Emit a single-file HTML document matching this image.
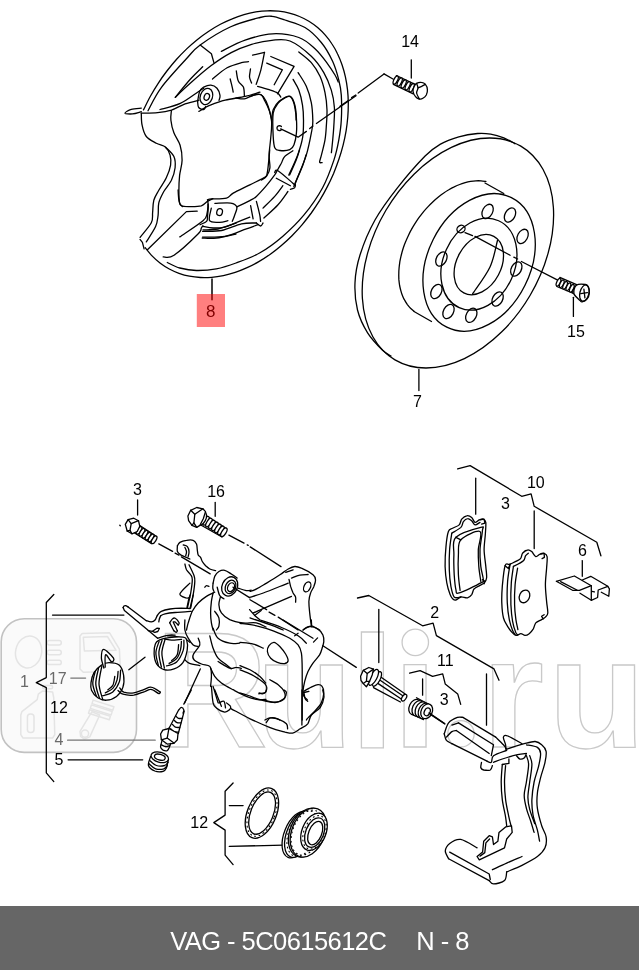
<!DOCTYPE html>
<html><head><meta charset="utf-8">
<style>
html,body{margin:0;padding:0;background:#fff;}
body{width:639px;height:970px;overflow:hidden;position:relative;font-family:"Liberation Sans",sans-serif;}
#dia{position:absolute;left:0;top:0;width:639px;height:906px;display:block;}
#bar{position:absolute;left:0;top:906px;width:639px;height:64px;background:#666;color:#fff;font-size:25.5px;}
#bar span{opacity:0.999;position:absolute;top:3px;line-height:64px;white-space:pre;letter-spacing:-0.55px;}
.l{font-family:"Liberation Sans",sans-serif;font-size:16px;fill:#000;text-anchor:middle;}
.k{fill:none;stroke:#000;stroke-width:1.3;stroke-linecap:round;stroke-linejoin:round;}
.kw{fill:#fff;stroke:#000;stroke-width:1.3;stroke-linecap:round;stroke-linejoin:round;}
.dt{fill:none;stroke:#000;stroke-width:1.1;stroke-dasharray:0.9 3.6;stroke-linecap:round;}
.wt{fill:none;stroke:#c9c9c9;stroke-width:1.3;font-family:"Liberation Sans",sans-serif;font-weight:bold;font-size:160px;}
</style></head><body>
<svg id="dia" width="639" height="906" viewBox="0 0 639 906">
<!-- WATERMARK -->
<g id="wm">
<rect x="1.2" y="618.8" width="135.3" height="133.6" rx="23" ry="23" fill="#fafafa" stroke="#c2c2c2" stroke-width="1.6"/>
<g fill="none" stroke="#e4e4e4" stroke-width="1.5" stroke-linejoin="round"><ellipse cx="28.6" cy="652" rx="13" ry="16" transform="rotate(12 28.6 652)"/><rect x="47.1" y="640.5" width="14.2" height="4.4" rx="2.2"/><rect x="47.1" y="650.3" width="14.2" height="4.4" rx="2.2"/><rect x="47.1" y="660.2" width="14.2" height="4.4" rx="2.2"/><polygon points="80.0,636.1 82.2,633.5 109.6,632.8 119.4,649.2 120.5,671.2 83.3,672.3 80.0,669.0"/><polygon points="83.3,637.2 107.4,636.5 116.1,650.3 84.4,651.0"/><polygon points="20.8,715.0 21.9,711.7 37.2,699.6 38.3,694.2 42.7,690.9 52.6,692.0 53.7,697.5 54.8,734.7 52.6,738.0 23.0,738.0 20.8,734.7"/><rect x="27.4" y="713.9" width="6.6" height="18.6" rx="3"/><rect x="42.7" y="685.4" width="9.9" height="3.3" rx="1.5"/><polygon points="80.0,731.4 92.0,711.7 99.7,715.0 89.8,736.9 84.4,739.1 80.6,736.5"/><circle cx="85.0" cy="733.6" r="3.6"/><polygon points="93.1,700.1 113.9,706.7 112.8,710.2 92.0,703.6"/><polygon points="91.4,704.9 112.2,711.5 111.1,715.0 90.3,708.4"/><polygon points="89.6,709.7 110.4,716.3 109.3,719.8 88.5,713.2"/></g>
<g class="wt">
<text transform="translate(165.2,747.5) scale(0.975,1.03) translate(-165.2,-747.5)" x="154.7" y="747.5">R</text>
<text transform="translate(0,747.5) scale(1,0.974) translate(0,-747.5)" x="255.8" y="747.5">u</text>
<text x="350.2" y="747.5">l</text>
<text transform="translate(0,747.5) scale(1,0.974) translate(0,-747.5)" x="392.8" y="747.5">ı</text>
<text transform="translate(0,747.5) scale(1,0.974) translate(0,-747.5)" x="481.8" y="747.5">r</text>
<text transform="translate(0,747.5) scale(1,0.974) translate(0,-747.5)" x="548" y="747.5">u</text>
<circle cx="415.3" cy="642.4" r="13.2"/>
<circle cx="461" cy="733.8" r="13.2"/>
</g>
</g>
<!-- HIGHLIGHT -->

<!-- LABELS -->
<g id="labels" style="filter:grayscale(1)">
<text class="l" x="410.1" y="46.5">14</text>
<text class="l" x="576" y="337">15</text>
<text class="l" x="417.4" y="407">7</text>
<text class="l" x="137.5" y="494.5">3</text>
<text class="l" x="216.1" y="496.5">16</text>
<text class="l" style="fill:#6a6a6a" x="24.5" y="686.8">1</text>
<text class="l" style="fill:#6a6a6a" x="57.7" y="683.5">17</text>
<text class="l" x="58.9" y="712.7">12</text>
<text class="l" style="fill:#6a6a6a" x="58.9" y="745.3">4</text>
<text class="l" x="58.9" y="764.7">5</text>
<text class="l" x="199.2" y="828.3">12</text>
<text class="l" x="535.8" y="487.6">10</text>
<text class="l" x="505.4" y="508.8">3</text>
<text class="l" x="582.4" y="555.5">6</text>
<text class="l" x="434.8" y="617.6">2</text>
<text class="l" x="445.4" y="666.4">11</text>
<text class="l" x="444.1" y="704.9">3</text>
<text class="l" x="210.8" y="316.7" style="font-size:17px">8</text>
</g>
<!-- DRAWING -->
<g id="draw">
<path class="k" d="M143.5 109.9C144.7 107.6 147.9 100.7 150.4 96.3C152.8 91.9 155.4 87.5 158.2 83.3C160.9 79.1 163.9 74.9 166.9 71C170 67 173.2 63.1 176.4 59.5C179.7 55.8 183.2 52.3 186.7 48.9C190.2 45.6 193.8 42.5 197.5 39.5C201.2 36.6 205 33.8 208.8 31.3C212.6 28.7 216.5 26.4 220.4 24.3C224.3 22.2 228.2 20.4 232.2 18.8C236.1 17.1 240.1 15.7 244 14.6C247.9 13.5 251.9 12.6 255.8 11.9C259.7 11.3 263.6 10.9 267.4 10.8C271.2 10.7 274.9 10.8 278.6 11.2C282.2 11.6 285.8 12.2 289.3 13.1C292.8 14 296.2 15.1 299.5 16.5C302.8 17.8 305.9 19.5 308.9 21.3C312 23.2 314.9 25.3 317.6 27.6C320.3 29.9 322.9 32.4 325.3 35.2C327.7 37.9 330 40.9 332 44C334.1 47.1 336 50.5 337.6 54C339.3 57.5 340.8 61.2 342.1 65C343.4 68.8 344.5 72.8 345.4 76.9C346.3 81 347 85.3 347.5 89.6C348 94 348.2 98.4 348.3 102.9C348.3 107.4 348.2 112.1 347.8 116.7C347.4 121.4 346.9 126.1 346.1 130.8C345.3 135.5 344.3 140.3 343.1 145.1C341.9 149.8 340.5 154.6 338.9 159.3C337.3 164 335.5 168.7 333.6 173.4C331.6 178 329.5 182.6 327.1 187.1C324.8 191.6 322.3 196 319.7 200.4C317 204.7 314.2 208.9 311.3 213C308.3 217 305.2 221 302 224.8C298.8 228.6 295.4 232.2 292 235.7C288.6 239.1 285 242.4 281.4 245.5C277.8 248.6 274.1 251.5 270.3 254.2C266.5 256.9 262.7 259.4 258.8 261.6C254.9 263.9 251 265.9 247.1 267.7C243.1 269.5 239.2 271.1 235.2 272.4C231.3 273.7 227.3 274.8 223.4 275.6C219.5 276.4 215.6 277 211.7 277.3C207.9 277.6 204.1 277.7 200.4 277.5C196.6 277.3 193 276.9 189.4 276.2C185.9 275.5 182.4 274.5 179 273.3C175.7 272.1 172.4 270.7 169.3 269C166.2 267.3 163.2 265.4 160.3 263.2C157.5 261.1 154.8 258.7 152.3 256.1C149.8 253.5 146.4 249.1 145.2 247.7"/>
<path class="k" d="M148 110.7C150.2 106.8 154.9 96.2 161.3 87.6C167.7 78.9 179.9 65.9 186.4 58.8C192.9 51.7 192.9 50.3 200.2 45C207.5 39.7 220.2 31.6 230.2 27C240.2 22.4 253 19.3 260 17.5C267 15.7 267.8 15.9 272 16.3C276.2 16.7 279.5 18.1 285 20C290.5 21.9 298.9 23.8 305 27.5C311.1 31.2 316.7 36.9 321.3 42.5C325.9 48.1 329.7 55 332.6 61.3C335.5 67.6 337.4 74.5 338.8 80.1C340.2 85.7 340.9 88.4 341.3 95.1C341.7 101.8 341.7 112.6 341.3 120.1C340.9 127.6 340 133.2 338.8 139.9C337.6 146.6 336.6 152.1 333.9 160.1C331.2 168.1 327.6 178.5 322.6 187.7C317.6 196.9 310.5 207.1 303.8 215.2C297.1 223.3 289.9 230.2 282.6 236.5C275.3 242.8 267.8 248.4 260 252.8C252.2 257.2 243.3 260.3 236 263C228.7 265.7 222.9 267.6 216.3 268.8C209.7 270.1 202.5 270.6 196.4 270.5C190.3 270.4 184.7 269.3 179.8 268C175 266.7 169.4 263.4 167.3 262.5"/>
<path class="k" d="M221.3 51.3C225.3 49.4 236.5 43 245.1 40.1C253.7 37.2 263.7 34.2 272.6 33.8C281.6 33.4 291.7 35 298.8 37.5C305.9 40 310.2 44.4 315 48.8C319.8 53.2 324.3 59.4 327.6 63.8C330.9 68.2 333.2 72 335 75C336.8 78 337.7 80.8 338.2 82"/>
<path class="k" d="M175.3 97.3C177.8 94.9 184.6 88.3 190.5 83.1C196.4 77.8 204.1 70.9 210.9 65.8C217.7 60.7 224.4 56.2 231.2 52.6C238 49 244.8 46.5 251.6 44.4C258.4 42.3 265.5 40.9 271.9 40.3C278.3 39.7 283.4 38.3 290 41C296.6 43.7 305.7 51 311.3 56.3C316.9 61.6 320.5 67 323.8 72.6C327.1 78.2 329.5 84.3 331.3 90.1C333.1 95.9 334 101.5 334.4 107.6C334.8 113.6 334.1 120.7 333.8 126.4C333.5 132.1 332.9 137.6 332.5 142C332.1 146.4 331.6 150.8 331.4 152.6"/>
<path class="k" d="M175.3 97.3C177.8 94.2 185.9 84.1 190.5 79C195.1 73.9 200.7 68.8 202.7 66.8"/>
<path class="k" d="M298.8 51.9C300.9 53.7 307.8 58.5 311.3 62.6C314.8 66.7 317.7 71.3 320 76.3C322.3 81.3 323.8 87 325 92.6C326.2 98.2 326.8 104.5 327 110.1C327.2 115.7 326.6 121.4 326.3 126.4C326 131.4 325.8 135.1 325 139.9C324.2 144.7 322.3 151.4 321.4 155.1C320.5 158.8 319.5 160.8 319.6 162.1C319.7 163.3 321.7 162.5 322.1 162.6"/>
<path class="k" d="M298.1 72.6C299.5 74.9 304.1 81.3 306.3 86.3C308.5 91.3 310.2 97 311.3 102.6C312.4 108.2 312.7 115.5 312.8 120.1C312.9 124.7 313 124.2 311.9 130C310.8 135.8 308.9 146.7 306.3 155.1C303.7 163.5 298.4 175 296.3 180.2C294.2 185.4 294.2 185.4 293.8 186.4"/>
<path class="k" d="M293.1 79.4C294.1 81.2 297.2 85.8 298.8 90.1C300.4 94.4 301.7 100.1 302.5 105.1C303.3 110.1 303.5 114.7 303.5 120.1C303.5 125.5 303.6 131.8 302.6 137.6C301.6 143.4 299.9 148.8 297.6 155.1C295.3 161.3 290.3 171.8 288.8 175.1"/>
<path class="k" d="M200.2 45.1L211.4 53.8L213.9 62.6"/>
<path class="k" d="M141.3 108.2C139.6 108.4 134 108.6 131.3 109.4C128.6 110.2 124.8 112.4 125 113.2C125.2 113.9 129.8 114.2 132.5 113.9C135.3 113.7 139.9 112 141.3 111.7"/>
<path class="k" d="M141.3 113.2C144 113.1 152.6 113.2 157.6 112.7C162.6 112.2 166.8 111.6 171.4 110.2C175.9 108.7 180.5 105.6 185.1 103.9C189.7 102.2 196.6 100.8 198.9 100.2"/>
<path class="k" d="M198.9 111.4C199.9 110.8 203.3 108.7 205.2 107.7C207 106.6 206.8 106.4 210.2 105.2C213.5 103.9 219.3 101.6 225.2 100.2C231 98.7 239.4 97.7 245.2 96.4C251 95.1 257.5 92.8 260 92.1"/>
<path class="k" d="M197.6 101.4C198 99.7 198.7 93.6 199.7 91.2C200.7 88.8 201.9 88.2 203.7 87.1C205.6 86.1 208.7 84.9 210.9 85.1C213.1 85.3 215.4 86.5 217 88.2C218.5 89.9 219.7 93.2 220 95.3C220.4 97.3 219.2 99.5 219 100.4"/>
<path class="k" d="M197.6 101.4C197.8 102.4 197.6 106.1 198.7 107.5C199.7 108.8 202.6 109.7 203.7 109.5C204.9 109.4 205.4 107 205.8 106.5"/>
<ellipse class="kw" cx="206.4" cy="96.5" rx="6.1" ry="8.3" transform="rotate(20 206.4 96.5)"/>
<ellipse class="k" cx="206.8" cy="96.9" rx="2.6" ry="3.5" transform="rotate(20 206.8 96.9)"/>
<path class="k" d="M160 109.5C163.4 108.5 174.1 106.3 180.3 103.4C186.6 100.5 193.7 94.8 197.6 92.2C201.5 89.7 202.7 88.8 203.7 88.2"/>
<path class="k" d="M212.5 79C214.9 77.1 222.3 70.5 227.1 67.8C232 65.1 237.8 63.7 241.4 62.7C244.9 61.7 247.3 61.9 248.5 61.7"/>
<path class="k" d="M230.2 79C230.5 80.4 231.7 84.9 232.2 87.1C232.7 89.3 233.1 91.4 233.2 92.2"/>
<path class="k" d="M236.3 70.9C236.6 72.6 237.1 78.3 238.3 81C239.5 83.8 242.4 84.6 243.4 87.1C244.4 89.7 244.3 94.8 244.4 96.3"/>
<path class="k" d="M250.5 68.8C250.4 70.2 249.4 74.6 249.5 77C249.7 79.3 251.2 82.1 251.6 83.1"/>
<path class="k" d="M141.3 113.2C141.4 115.2 141.2 121.3 142.1 125.2C142.9 129.1 143.9 133.5 146.3 136.5C148.7 139.5 153.1 141.4 156.3 143.2C159.5 145 163.3 145.2 165.6 147.2C167.9 149.2 169.3 152.2 170.1 155.2C170.9 158.2 171.2 161.5 170.6 165.2C170 169 168.3 173.6 166.3 177.8C164.4 181.9 160.9 186.5 158.8 190.3C156.8 194 154.9 196.5 153.8 200.3C152.8 204.1 153 209.1 152.6 212.8C152.2 216.6 153.4 218.7 151.3 222.8C149.2 226.9 141.9 234.9 140.1 237.4"/>
<path class="k" d="M165.6 147.2C167 148.8 172.3 153.1 173.9 156.5C175.4 159.9 175.5 163.8 175.1 167.8C174.7 171.7 173.2 176.3 171.4 180.3C169.5 184.2 165.9 187.8 163.8 191.5C161.8 195.3 159.8 198.8 158.8 202.8C157.9 206.8 158.6 211.4 158.1 215.3C157.5 219.3 157.5 222.2 155.6 226.6C153.6 231 147.9 239.3 146.3 241.9"/>
<path class="k" d="M171.4 110.7C171.3 112.3 170.4 116.5 170.9 120.2C171.3 123.9 172.3 128.5 173.9 132.7C175.4 136.9 178.7 140.6 180.1 145.2C181.5 149.8 182.2 155.2 182.1 160.2C182 165.2 180.2 170.3 179.6 175.3C179.1 180.3 178.9 185.7 178.9 190.3C178.9 194.9 179 200.1 179.6 202.8C180.2 205.5 182.1 205.9 182.6 206.6"/>
<path class="k" d="M140 239.4L142.4 242.3L144.1 248.9"/>
<path class="k" d="M147.4 249.7L186.4 211.6L197.2 211.2"/>
<path class="k" d="M179.8 236.9C183.6 234.2 198.4 224.6 203 220.7C207.6 216.7 206.3 216 207.1 213.2C208 210.5 207.8 205.6 208 204.1"/>
<path class="k" d="M163.2 256.9C165 256.6 168.2 259 174 255.2C179.8 251.4 193.5 238.5 198 234C202.6 229.5 200.5 229.5 201.3 228.2C202.2 226.8 202.7 226.1 203 225.7"/>
<path class="k" d="M203 229.8C205.5 229.7 212.4 230.1 217.9 229C223.4 227.9 233 224.1 236 223.2"/>
<path class="k" d="M202.2 238.1C204.5 238.1 210.6 238.8 216.3 238.1C221.9 237.4 232.7 234.7 236 234"/>
<path class="k" d="M178.1 190C178.2 191.7 178.4 197.3 178.9 200C179.5 202.6 179.4 204.7 181.4 205.8C183.5 206.9 188.1 206.6 191.4 206.6C194.7 206.6 198.7 206.6 201.3 205.8C204 204.9 205.2 202.8 207.1 201.6C209.1 200.4 212 199.1 212.9 198.6"/>
<ellipse class="k" cx="219.6" cy="212.1" rx="2.8" ry="3.5" transform="rotate(15 219.6 212.1)"/>
<path class="k" d="M211.3 208.2C211 210.3 208.2 218.3 209.6 220.7C211 223 216.5 222.3 219.6 222.3C222.6 222.3 226.5 221 227.9 220.7"/>
<path class="k" d="M269.7 150C269.5 151.7 269.3 156.1 268.8 160C268.4 163.8 267.9 170.3 267.2 173.2C266.5 176.1 267.6 175.4 264.7 177.4C261.8 179.3 255 182.2 249.8 184.8C244.5 187.5 237 190.9 233.2 193.1C229.3 195.3 230.1 197.1 226.5 198.1C222.9 199.1 214.8 198.7 211.6 198.9C208.4 199.2 208.2 199.6 207.5 199.8"/>
<path class="k" d="M207.5 199.8C207.6 200.9 208.3 203.6 208.3 206.4C208.3 209.2 207.7 213.9 207.5 216.4C207.2 218.8 207.9 220 206.6 221.3C205.4 222.7 201.1 224.1 200 224.7"/>
<path class="k" d="M214.9 203.4C217.6 203.4 227 202.5 230.7 203.1C234.3 203.7 236.1 205 236.8 206.9C237.5 208.8 235.6 212.3 234.8 214.7C234.1 217.1 232.8 220.2 232.3 221.3"/>
<path class="k" d="M236.8 206.9C239 205.9 246.5 202.3 249.8 200.6C253 198.9 253.6 198.9 256.4 196.4C259.2 194 263.3 189.3 266.4 185.7C269.4 182.1 272.9 177.4 274.7 174.9C276.4 172.4 276 172.7 277.1 170.7C278.2 168.8 280 165.6 281.3 163.3C282.5 160.9 282.7 158.7 284.6 156.6C286.5 154.6 291.5 151.8 292.9 150.8"/>
<path class="k" d="M202.5 226.3C204.3 226.6 209.5 227.8 213.3 228C217 228.1 221.6 227.8 224.9 227.1C228.2 226.4 229 225.5 233.2 223.8C237.3 222.2 247 218.3 249.8 217.2"/>
<path class="k" d="M250.6 205.6 L253.1 218.8"/>
<path class="k" d="M256.4 201.4C257 203.6 259 211.4 259.7 214.7C260.4 218 260.4 220.2 260.6 221.3"/>
<path class="k" d="M256.4 223C257.1 223.5 259.4 226 260.6 226C261.7 226 262.6 223.5 263 223"/>
<path class="k" d="M276.3 178.2L290.4 185.7"/>
<path class="k" d="M274.7 172.4C275.2 172.1 274.9 168.9 278 170.7C281 172.5 290 180.7 292.9 183.2C295.8 185.7 295 185.3 295.4 185.7"/>
<path class="k" d="M290.4 189.3C291.1 189.1 293.7 188.7 294.6 187.8C295.4 186.9 295.2 184.6 295.4 184"/>
<path class="k" d="M202.5 231.3C205.7 231.1 215.1 231.7 221.6 230.5C228.1 229.2 235.7 225.1 241.5 223.8C247.3 222.6 253.9 223.1 256.4 223"/>
<path class="k" d="M202.5 237.1C206.2 237 217.6 237.6 224.9 236.3C232.2 234.9 240.9 230.7 246.4 228.8C252 226.9 256.1 225.3 258.1 224.7"/>
<path class="k" d="M263 208.1C265 206.1 271.3 200.2 274.7 196.4C278 192.7 281.6 187.5 282.9 185.7"/>
<path class="k" d="M263.9 218C266.2 215.8 274 209.2 278 204.7C282 200.3 286.3 193.7 287.9 191.5"/>
<path class="k" d="M289.6 174.9C290.7 172.4 294.6 164.1 296.2 160C297.9 155.8 299 151.7 299.5 150"/>
<path class="k" d="M295.4 183.2C296.6 180.1 301.1 169.6 302.9 164.9C304.6 160.2 305.5 156.6 306 155"/>
<path class="k" d="M252.6 55.2L264.5 52.3"/>
<path class="k" d="M264.5 52.3C263.9 55.3 262.3 64.4 260.9 69.8C259.5 75.1 257 81.9 256.2 84.4"/>
<path class="k" d="M270.8 56.5L294.1 66.4L277.5 93.8"/>
<path class="k" d="M266.7 63.1L282.4 69.8L274.2 84.7"/>
<path class="k" d="M257.6 86.4C259.5 86.9 265.9 88.6 269.2 89.7C272.5 90.8 275.5 91.7 277.5 93C279.4 94.2 280.2 96.4 280.8 97.1"/>
<path class="k" d="M236 98C237.4 98.1 241.5 99.2 244.3 98.8C247.1 98.4 249.8 96.2 252.6 95.5C255.4 94.8 258.8 93.7 260.9 94.7C263 95.6 263.6 98.7 265 101.3C266.4 103.9 268.1 107.3 269.2 110.4C270.3 113.5 271.3 118.4 271.7 120"/>
<path class="k" d="M271.7 120C271.9 118.3 272.1 112.7 273.3 109.6C274.6 106.5 276.5 103.5 279.1 101.3C281.8 99.1 286.7 96.3 289.1 96.3C291.4 96.3 292.1 98.5 293.2 101.3C294.3 104.1 295.3 109.8 295.7 112.9C296.2 116 296 118.8 296.1 120"/>
<path class="k" d="M250 96.6C251.4 96.2 256.1 94.1 258.3 94.1C260.5 94.1 261.6 94.5 263.3 96.6C264.9 98.7 266.9 102.4 268.2 106.5C269.6 110.7 271.2 116.2 271.6 121.5C272 126.7 271.2 132.5 270.7 138.1C270.3 143.6 269.2 149.7 269.1 154.7C268.9 159.6 270.3 164.3 269.9 167.9C269.5 171.5 268 174.2 266.6 176.2C265.2 178.2 262.4 179.4 261.6 180"/>
<path class="k" d="M273.2 113.2C274.1 107.6 276.1 105.9 278.2 103.2C280.3 100.6 283.6 98.5 285.7 97.4C287.7 96.3 289.1 95.3 290.6 96.6C292.2 97.8 293.8 101.3 294.8 104.9C295.8 108.5 296.2 113.5 296.4 118.2C296.7 122.9 296.9 128.7 296.4 133.1C296 137.5 295.1 141.9 294 144.7C292.9 147.5 292.2 148.7 289.8 149.7C287.5 150.6 282.3 150.8 279.9 150.5C277.4 150.2 276 150.4 274.9 148C273.8 145.7 273.5 142.2 273.2 136.4C272.9 130.6 272.4 118.7 273.2 113.2Z"/>
<path class="k" d="M281.4 129.7C281.3 129.8 280.8 130.3 280.5 130.4C280.1 130.6 279.7 130.6 279.3 130.6C278.9 130.5 278.5 130.4 278.1 130.2C277.8 130 277.5 129.6 277.3 129.3C277.1 128.9 277 128.5 277 128.1C277 127.7 277.1 127.3 277.3 126.9C277.5 126.6 277.8 126.3 278.1 126C278.5 125.8 278.9 125.7 279.3 125.6C279.7 125.6 280.1 125.7 280.5 125.8C280.8 125.9 281.3 126.4 281.4 126.5"/>
<path class="k" d="M280.7 128.9L298.1 137.2L306.4 131.4"/>
<path class="k" d="M309.7 128.6L313 126.1"/>
<path class="k" d="M316.4 123.5L356 95.8"/>
<path class="k" d="M411.3 59.8L411.3 78.1"/>
<path class="k" d="M384 73.9L358.2 93"/>
<path class="k" d="M355.8 95L351.6 97.6"/>
<path class="k" d="M348.3 100.5L340 106.3"/>
<path class="k" d="M384 73.9L393.4 79.2"/>
<path class="k" d="M396.4 75.6L416.6 85.2"/>
<path class="k" d="M393.4 84.4L413.3 93.8"/>
<ellipse class="kw" cx="395.7" cy="80.1" rx="1.8" ry="4.5" transform="rotate(26 395.7 80.1)"/>
<ellipse class="kw" cx="399.7" cy="82" rx="1.8" ry="4.5" transform="rotate(26 399.7 82)"/>
<ellipse class="kw" cx="403.7" cy="83.9" rx="1.8" ry="4.5" transform="rotate(26 403.7 83.9)"/>
<ellipse class="kw" cx="407.7" cy="85.8" rx="1.8" ry="4.5" transform="rotate(26 407.7 85.8)"/>
<ellipse class="kw" cx="411.7" cy="87.7" rx="1.8" ry="4.5" transform="rotate(26 411.7 87.7)"/>
<path class="kw" d="M414.2 86.4C414.8 85 415.5 84 416.6 83.4C417.8 82.7 419.8 82.2 421.3 82.4C422.8 82.5 424.4 83.1 425.4 84.4C426.5 85.6 427.3 87.9 427.4 89.7C427.6 91.4 427 93.5 426.3 95C425.5 96.4 424.1 97.6 422.9 98.3C421.8 99 420.5 99.2 419.3 99C418.1 98.7 416.5 97.9 415.5 96.6C414.4 95.4 413.2 93 413 91.3C412.8 89.6 413.5 87.7 414.2 86.4Z"/>
<path class="k" d="M416.6 83.4C416.9 84.1 418 86.4 418 88C418 89.6 416.4 91.2 416.6 93C416.9 94.8 418.9 98 419.3 99"/>
<path class="k" d="M418 88C418.6 87.7 420.4 87 421.6 86.4C422.9 85.7 424.8 84.7 425.4 84.4"/>
<ellipse class="k" cx="457.9" cy="253" rx="124" ry="83.7" transform="rotate(-59.5 457.9 253)"/>
<path class="k" d="M515.1 143.8C513.2 142.8 507.9 139.4 503.8 137.8C499.7 136.2 495.1 134.8 490.7 134.1C486.3 133.4 482.9 133 477.6 133.5C472.3 134 465.1 135.1 458.8 136.9C452.5 138.7 445.6 141.2 440 144.4C434.4 147.6 432.2 148.8 425.1 156C418 163.2 406 176.9 397.6 187.6C389.2 198.3 381.3 208.8 375 220C368.7 231.2 363.3 244.6 360 255C356.7 265.4 355.4 273.5 355 282.7C354.6 291.9 355.4 301.6 357.5 310C359.6 318.4 363.4 326.1 367.6 332.8C371.8 339.5 378.7 346.4 382.6 350.3C386.5 354.2 389.6 355.1 391 356"/>
<path class="k" d="M414 311.3C413.4 310.8 411.6 309.3 410.5 308.2C409.4 307.1 408.4 305.9 407.4 304.6C406.5 303.3 405.6 301.9 404.8 300.4C403.9 299 403.2 297.5 402.6 295.9C401.9 294.3 401.3 292.6 400.9 290.9C400.4 289.2 400 287.4 399.6 285.5C399.3 283.7 399.1 281.8 398.9 279.9C398.8 277.9 398.7 275.9 398.8 273.9C398.8 271.9 398.9 269.8 399.1 267.8C399.3 265.7 399.6 263.6 399.9 261.4C400.3 259.3 400.8 257.2 401.3 255C401.8 252.9 402.4 250.7 403.1 248.5C403.8 246.4 404.6 244.2 405.5 242.1C406.3 239.9 407.3 237.8 408.3 235.7C409.3 233.5 410.3 231.4 411.5 229.4C412.6 227.3 413.8 225.3 415.1 223.3C416.4 221.3 417.7 219.3 419.1 217.4C420.5 215.5 422 213.6 423.4 211.8C424.9 210 426.5 208.3 428.1 206.6C429.7 204.9 431.3 203.3 433 201.7C434.6 200.2 436.4 198.7 438.1 197.3C439.8 195.9 441.6 194.5 443.4 193.3C445.1 192 446.9 190.9 448.8 189.8C450.6 188.7 452.4 187.7 454.2 186.9C456.1 186 457.9 185.2 459.7 184.5C461.6 183.8 463.4 183.2 465.2 182.6C467 182.1 468.8 181.7 470.6 181.4C472.4 181.1 474.2 180.9 475.9 180.8C477.6 180.7 479.3 180.7 481 180.8C482.7 180.9 485.1 181.3 485.9 181.4"/>
<path class="k" d="M485 183L503.8 193.5"/>
<path class="k" d="M414 311.5L431.5 321.5"/>
<ellipse class="k" cx="479.1" cy="262.4" rx="72.4" ry="51.3" transform="rotate(-63.5 479.1 262.4)"/>
<ellipse class="k" cx="478.9" cy="264.2" rx="47.7" ry="35.7" transform="rotate(-65.6 478.9 264.2)"/>
<ellipse class="k" cx="478.8" cy="264.6" rx="32" ry="22.2" transform="rotate(-62 478.8 264.6)"/>
<path class="k" d="M497.6 240C496.3 244.5 494.2 258 490 267C485.8 276 475.4 289.5 472.5 294"/>
<ellipse class="k" cx="487.6" cy="211.4" rx="7.6" ry="5" transform="rotate(-62 487.6 211.4)"/>
<ellipse class="k" cx="510" cy="215" rx="7.6" ry="5" transform="rotate(-62 510 215)"/>
<ellipse class="k" cx="522.6" cy="236.4" rx="7.6" ry="5" transform="rotate(-62 522.6 236.4)"/>
<ellipse class="k" cx="516.3" cy="269" rx="7.6" ry="5" transform="rotate(-62 516.3 269)"/>
<ellipse class="k" cx="497.6" cy="299" rx="7.6" ry="5" transform="rotate(-62 497.6 299)"/>
<ellipse class="k" cx="471.3" cy="315.3" rx="7.6" ry="5" transform="rotate(-62 471.3 315.3)"/>
<ellipse class="k" cx="448.5" cy="311.5" rx="7.6" ry="5" transform="rotate(-62 448.5 311.5)"/>
<ellipse class="k" cx="436.4" cy="291.5" rx="7.6" ry="5" transform="rotate(-62 436.4 291.5)"/>
<ellipse class="k" cx="441.4" cy="259" rx="7.6" ry="5" transform="rotate(-62 441.4 259)"/>
<ellipse class="k" cx="461" cy="229" rx="4.2" ry="3.6" transform="rotate(-30 461 229)"/>
<path class="k" d="M465 232.7L472.5 235.7"/>
<path class="k" d="M475 236.4L510.1 255.2"/>
<path class="k" d="M513.8 257.2L517.6 259"/>
<path class="k" d="M521.4 261.5L557.7 280.2"/>
<path class="k" d="M573.4 297.3L573.4 316.4"/>
<path class="k" d="M559.8 277.4L578.9 285.7"/>
<path class="k" d="M556.8 286.5L574.7 294"/>
<ellipse class="kw" cx="558.5" cy="282.3" rx="1.7" ry="4.1" transform="rotate(25 558.5 282.3)"/>
<ellipse class="kw" cx="561.8" cy="283.8" rx="1.7" ry="4.1" transform="rotate(25 561.8 283.8)"/>
<ellipse class="kw" cx="565.1" cy="285.3" rx="1.7" ry="4.1" transform="rotate(25 565.1 285.3)"/>
<ellipse class="kw" cx="568.4" cy="286.8" rx="1.7" ry="4.1" transform="rotate(25 568.4 286.8)"/>
<ellipse class="kw" cx="571.8" cy="288.3" rx="1.7" ry="4.1" transform="rotate(25 571.8 288.3)"/>
<ellipse class="kw" cx="575.1" cy="289.8" rx="1.7" ry="4.1" transform="rotate(25 575.1 289.8)"/>
<path class="kw" d="M576.4 285.3C578.3 283.8 583.5 284.2 585.5 284.5C587.5 284.8 587.7 285.9 588.3 287.3C589 288.8 589.5 291.2 589.3 293.1C589.1 295.1 588.4 297.5 587.2 298.9C586 300.4 583.4 301.5 582.2 301.8C581 302 581.4 302 580.1 300.6C578.7 299.2 574.5 296 573.9 293.5C573.3 290.9 574.5 286.8 576.4 285.3Z"/>
<ellipse class="k" cx="584.4" cy="293.1" rx="4.5" ry="8.3" transform="rotate(14 584.4 293.1)"/>
<path class="k" d="M580.7 293.6L587.4 292.6"/>
<path class="k" d="M583.9 289.2L584.9 297.8"/>
<path class="k" d="M418.9 369.5L418.9 390.5"/>
<path class="k" style="stroke-width:1.5" d="M212 279L212 299.8"/>
<path class="k" d="M137.6 500L137.6 515.1"/>
<path class="k" d="M215.2 502.5L215.2 516.3"/>
<path class="k" d="M137.5 524L155.4 535.7"/>
<path class="k" d="M133.4 532.3L151.6 543.6"/>
<ellipse class="kw" cx="136" cy="528.5" rx="1.9" ry="4.3" transform="rotate(32 136 528.5)"/>
<ellipse class="kw" cx="139" cy="530.4" rx="1.9" ry="4.3" transform="rotate(32 139 530.4)"/>
<ellipse class="kw" cx="142" cy="532.3" rx="1.9" ry="4.3" transform="rotate(32 142 532.3)"/>
<ellipse class="kw" cx="145" cy="534.2" rx="1.9" ry="4.3" transform="rotate(32 145 534.2)"/>
<ellipse class="kw" cx="148.1" cy="536.1" rx="1.9" ry="4.3" transform="rotate(32 148.1 536.1)"/>
<ellipse class="kw" cx="151.1" cy="537.9" rx="1.9" ry="4.3" transform="rotate(32 151.1 537.9)"/>
<ellipse class="kw" cx="154.1" cy="539.8" rx="1.9" ry="4.3" transform="rotate(32 154.1 539.8)"/>
<path class="kw" d="M125.3 524.4L128.1 519.7L133.8 518.2L138.5 520.7L139.8 526.3L137.2 531.5L131.9 533.8L127.2 531Z"/>
<path class="k" d="M128.1 519.7L131.2 523.7L130 530.4L127.2 531"/>
<path class="k" d="M131.2 523.7L138.5 520.7"/>
<path class="k" d="M130 530.4L131.9 533.8"/>
<path class="k" d="M203.3 513.7L225.8 528.2"/>
<path class="k" d="M198.6 523.8L222 537"/>
<ellipse class="kw" cx="202.9" cy="518.8" rx="2.1" ry="4.9" transform="rotate(32 202.9 518.8)"/>
<ellipse class="kw" cx="205.9" cy="520.7" rx="2.1" ry="4.9" transform="rotate(32 205.9 520.7)"/>
<ellipse class="kw" cx="208.9" cy="522.6" rx="2.1" ry="4.9" transform="rotate(32 208.9 522.6)"/>
<ellipse class="kw" cx="211.9" cy="524.6" rx="2.1" ry="4.9" transform="rotate(32 211.9 524.6)"/>
<ellipse class="kw" cx="214.9" cy="526.5" rx="2.1" ry="4.9" transform="rotate(32 214.9 526.5)"/>
<ellipse class="kw" cx="217.9" cy="528.5" rx="2.1" ry="4.9" transform="rotate(32 217.9 528.5)"/>
<ellipse class="kw" cx="220.9" cy="530.4" rx="2.1" ry="4.9" transform="rotate(32 220.9 530.4)"/>
<ellipse class="kw" cx="223.9" cy="532.3" rx="2.1" ry="4.9" transform="rotate(32 223.9 532.3)"/>
<ellipse class="kw" cx="200.8" cy="518.2" rx="5.1" ry="7.7" transform="rotate(28 200.8 518.2)"/>
<path class="kw" d="M187.9 516L190.7 510.3L196.7 507.5L202.9 508.8L205.5 511.6L203.3 518.8L199.9 525.4L196.7 527.4L192 525.4L188.6 520.7Z"/>
<path class="k" d="M190.7 510.3L194.8 514.3L193.9 522.9L192 525.4"/>
<path class="k" d="M194.8 514.3L202.9 508.8"/>
<path class="k" d="M193.9 522.9L196.7 527.4"/>
<path class="k" d="M119.8 525.3L120.3 525.8"/>
<path class="k" d="M158.8 543.9L172.6 551.4"/>
<path class="k" d="M175.1 553.1L178.9 555.1"/>
<path class="k" d="M181.4 556.9L210.2 573.9"/>
<path class="k" d="M228.9 535.1L244 543.1"/>
<path class="k" d="M247.2 544.9L248.2 545.4"/>
<path class="k" d="M250.2 546.9L281 566.6"/>
<path class="k" d="M177.4 545.8C177.8 545.2 178.4 543.4 179.9 542.4C181.4 541.5 184.3 540.6 186.5 540.3C188.8 539.9 191.5 539.6 193.2 540.3C194.8 540.9 195.8 542.5 196.5 544.1C197.2 545.7 197 548.1 197.3 549.9C197.6 551.7 197.6 553.6 198.2 554.9C198.7 556.1 200 556.3 200.6 557.4C201.3 558.5 201.5 560.1 202.3 561.5C203.1 562.9 204.4 564.4 205.6 565.7C206.9 566.9 208.1 568.2 209.8 569C211.4 569.8 214.6 570.4 215.6 570.6"/>
<path class="k" d="M177.4 545.8C177.4 546.7 176.9 550 177.4 551.6C178 553.1 179.2 553.9 180.7 554.9C182.3 555.9 185 556.7 186.5 557.4C188.1 558.1 189.3 558.8 189.9 559"/>
<path class="k" d="M183.2 544.9C183.9 545.2 186.4 545.5 187.4 546.6C188.3 547.7 188.9 549.9 189 551.6C189.2 553.2 188.3 555.7 188.2 556.5"/>
<path class="k" d="M184.9 547.4C185.2 548.1 186.4 550.2 186.5 551.6C186.7 552.9 185.9 555 185.7 555.7"/>
<path class="k" d="M184.9 564C185.2 565 185.6 568 186.5 569.8C187.5 571.6 189.7 573.1 190.7 574.8C191.7 576.4 192.3 576.7 192.3 579.8C192.3 582.8 191.5 588.3 190.7 593C189.9 597.7 187.9 605.5 187.4 608"/>
<path class="k" d="M189 564.8C189.9 566.6 193 572.9 194 575.6C195 578.4 195 578.2 194.8 581.4C194.7 584.6 193.9 590.3 193.2 594.7C192.5 599.1 191.1 605.8 190.7 608"/>
<path class="k" d="M189.9 583.1C188.2 584.9 180.5 591.4 179.9 593.9C179.4 596.4 184.9 597.5 186.5 598C188.2 598.6 189.3 597.3 189.9 597.2"/>
<path class="k" d="M213.1 583.1C213.4 582 213.8 578.4 214.7 576.4C215.7 574.5 217.2 572.5 218.9 571.5C220.6 570.5 222.6 569.9 224.7 570.3C226.8 570.7 229.3 572.7 231.3 574C233.4 575.3 236.2 577.4 237.1 578.1"/>
<path class="k" d="M213.1 583.1C213 583.9 212.6 586.7 212.8 588.1C212.9 589.4 213.7 590.8 213.9 591.4"/>
<path class="k" d="M217.2 587.2C217.6 588.6 218.6 593.6 219.7 595.5C220.8 597.5 223.2 598.3 223.9 598.8"/>
<ellipse class="kw" cx="229.7" cy="586.4" rx="7.6" ry="10" transform="rotate(25 229.7 586.4)"/>
<ellipse class="k" cx="230.5" cy="586.9" rx="5" ry="7" transform="rotate(25 230.5 586.9)"/>
<ellipse class="k" cx="231" cy="587.2" rx="3.2" ry="4.6" transform="rotate(25 231 587.2)"/>
<path class="k" d="M204.8 587.2C205.1 587 205.8 585.7 206.4 585.6C207.1 585.4 208.5 586.3 208.9 586.4"/>
<path class="k" d="M238 588.1C239.4 588.5 244.1 590.2 246.3 590.6C248.5 590.9 250.4 590.1 251.2 590.1"/>
<path class="k" d="M233 587.2L249.9 597.9"/>
<path class="k" d="M249.6 609.6L254.6 615.4L261.2 610.5"/>
<path class="k" d="M254.6 615.4L259.5 619.6"/>
<path class="k" d="M214.7 592.2C213.4 592.9 209.2 594.6 206.4 596.4C203.7 598.2 200.5 600.5 198.2 603C195.8 605.5 194 608 192.3 611.3C190.7 614.6 189.2 619.8 188.2 622.9C187.2 626 186.8 628.8 186.5 630"/>
<path class="k" d="M213.1 593C212.8 594.4 211.8 598 211.4 601.3C211 604.7 210.6 609.4 210.6 612.9C210.6 616.5 211 620.1 211.4 622.9C211.8 625.7 212.8 628.8 213.1 630"/>
<path class="k" d="M220.6 596.4C220.3 597.7 218.8 601.9 218.9 604.7C219 607.4 219.6 610.5 221.4 612.9C223.2 615.4 226.1 617.9 229.7 619.6C233.3 621.2 238.5 622.3 242.9 622.9C247.4 623.5 252.4 622.2 256.2 622.9C260.1 623.6 264.4 626.4 266 627"/>
<path class="k" d="M214.7 611.3C215.4 612.4 218.2 615.4 218.9 617.9C219.6 620.4 219.3 624.2 218.9 626.2C218.5 628.2 216.8 629.4 216.4 630"/>
<path class="k" d="M250 591.4C251.1 591 253.9 590.3 256.6 588.9C259.4 587.5 262.7 585.4 266.6 583.1C270.5 580.7 276.3 577.1 279.9 574.8C283.5 572.4 285.7 570.4 288.2 569C290.6 567.6 292.6 566.6 294.8 566.5C297 566.4 298.4 566.8 301.4 568.2C304.5 569.5 310.7 572.9 313 574.8C315.4 576.7 315.4 577.8 315.5 579.8C315.7 581.7 314.7 584.2 313.9 586.4C313 588.6 311.4 590.6 310.6 593C309.7 595.5 309 598 308.9 601.3C308.8 604.7 309.3 608.8 309.7 612.9C310.1 617.1 311.1 624 311.4 626.2"/>
<path class="k" d="M285.7 572.3L293.1 569.8"/>
<path class="k" d="M291.5 578.1C292.9 577.6 297 575.7 299.8 575.1C302.5 574.5 306.7 574.6 308.1 574.5"/>
<path class="k" d="M250 597.2C252.2 596.5 256.9 595.4 263.3 593C269.6 590.7 284 584.7 288.2 583.1"/>
<path class="k" d="M289 579.4C289.3 580.6 290 584.1 290.6 586.4C291.3 588.7 292.3 591.2 293.1 593C294 594.8 295.2 595.7 295.6 597.2C296 598.7 295.6 601.3 295.6 602.2"/>
<ellipse class="k" cx="307.2" cy="586.9" rx="3.2" ry="5.3" transform="rotate(25 307.2 586.9)"/>
<path class="k" d="M253.3 612.9C255.5 612 260.2 609.9 266.6 607.1C272.9 604.4 287.3 598.2 291.5 596.4"/>
<path class="k" d="M250 599.7L266.6 609.6"/>
<path class="k" d="M269.1 612.1L274.9 615.4"/>
<path class="k" d="M278.2 617.1L298.1 630"/>
<path class="k" d="M250 617.9C253.3 619 264.4 622.5 269.9 624.6C275.4 626.6 281 629.1 283.2 630"/>
<path class="k" d="M303.1 630C303.8 629.5 305.7 627.7 307.2 627C308.8 626.4 310.1 625.7 312.2 626.2C314.3 626.7 318.4 629.4 319.7 630"/>
<path class="k" d="M167.5 635.8C169 635.9 173.4 635.9 176.6 636.6C179.8 637.3 184.3 638.9 186.5 639.9C188.8 640.9 189.3 642 189.9 642.4"/>
<path class="k" d="M184.9 659.8C185.6 660.4 186.5 662.2 189 663.1C191.5 664.1 198 665.2 199.8 665.6"/>
<path class="k" d="M184.9 620C184.9 621.7 184.3 626.9 184.9 630C185.4 633 186.8 635.8 188.2 638.2C189.6 640.7 191.5 643.5 193.2 644.9C194.8 646.3 197.3 646.3 198.2 646.5"/>
<path class="k" d="M198.2 638.2C198.4 639.4 200.6 642.1 199.8 644.9C199 647.6 194.1 652.3 193.2 654.8C192.2 657.3 192.6 658.3 194 659.8C195.4 661.3 198.8 662.9 201.5 664C204.1 665.1 208.1 664.7 209.8 666.4C211.4 668.2 211.3 671.4 211.4 674.7C211.6 678.1 210.7 684.4 210.6 686.4"/>
<path class="k" d="M209.8 635.8C210.3 637.8 211.7 644.5 213.1 648.2C214.5 651.9 215.9 655.4 218.1 658.2C220.3 660.9 224.1 663 226.4 664.8C228.6 666.6 230.5 668.2 231.3 668.9"/>
<path class="k" d="M213.1 628.3C213.9 630 215.3 635.8 218.1 638.2C220.8 640.7 226.1 642.4 229.7 643.2C233.3 644.1 238 643.2 239.6 643.2"/>
<path class="k" d="M218.1 661.5C220 662.6 226.6 667.1 229.7 668.1C232.7 669.1 234.4 667.2 236.3 667.3C238.2 667.3 240.5 668.2 241.3 668.4"/>
<path class="k" d="M210.6 668.1C211.3 669.5 212.9 673.9 214.7 676.4C216.5 678.9 218.3 680.8 221.4 683C224.4 685.3 228.8 687.5 233 689.7C237.1 691.9 242.1 694.7 246.3 696.3C250.4 698 254.6 699.1 257.9 699.6C261.2 700.1 264.7 699.4 266 699.3"/>
<path class="k" d="M200.3 668.9L184.6 702.9"/>
<path class="k" d="M211.4 686.4C211.7 689.1 212.3 699.4 213.1 702.9C213.9 706.5 214.5 706.4 216.4 707.9C218.3 709.4 222.5 711.8 224.7 712.1C226.9 712.3 228.7 710.5 229.7 709.6C230.6 708.6 231.1 707.4 230.5 706.3C230 705.2 227 703.5 226.4 702.9"/>
<path class="k" d="M213.1 686.4L218.1 702.9"/>
<path class="k" d="M214.7 689.7L221.4 706.3"/>
<path class="k" d="M218.9 702.9C219.7 702.7 222.8 700.5 223.9 701.3C225 702.1 225.3 706.8 225.5 707.9"/>
<path class="k" d="M267.4 651.5C267.1 649.4 267.9 647.2 269 645.7C270.1 644.2 272.2 642.3 274 642.4C275.8 642.5 277.9 644.6 279.8 646.5C281.7 648.5 284.2 651.7 285.6 654C287 656.4 288.2 659.1 288.1 660.6C288 662.2 286.6 663.2 284.8 663.5C283 663.7 279.7 663.2 277.3 662.3C275 661.4 272.3 660 270.7 658.2C269 656.4 267.6 653.6 267.4 651.5Z"/>
<path class="k" d="M240 623.3C242.8 623.7 251.1 624.6 256.6 625.8C262.1 627.1 267.6 628.7 273.2 630.8C278.7 632.9 285.6 635.9 289.8 638.2C293.9 640.6 296.1 642.4 298.1 644.9C300 647.4 300.7 649 301.4 653.2C302.1 657.3 302.1 658.6 302.2 669.8C302.3 680.9 302.2 711.7 302.2 720"/>
<path class="k" d="M259.9 620C263.5 621.2 275.1 624.8 281.5 627.5C287.8 630.1 293.9 633.1 298.1 635.8C302.2 638.4 305 642 306.4 643.2"/>
<path class="k" d="M283.1 620L313 638.2"/>
<path class="k" d="M313.5 642.1L317.6 637.9"/>
<path class="k" d="M322.9 645.7L356.3 667.4"/>
<path class="k" d="M303 630C304.1 629.4 307.2 626.8 309.7 626.6C312.2 626.5 315.8 627.7 318 629.1C320.2 630.5 322 632.9 322.9 634.9C323.9 637 323.9 639.4 323.8 641.6C323.6 643.8 322.8 646 322.1 648.2C321.4 650.4 321.1 652.3 319.6 654.8C318.1 657.3 314.9 660.4 313 663.1C311.1 665.9 309.4 668.4 308 671.4C306.6 674.5 305.5 678.1 304.7 681.4C303.9 684.7 303.2 688.8 303 691.3C302.9 693.8 303.2 694.9 303.9 696.3C304.6 697.7 306.6 699.1 307.2 699.6"/>
<path class="k" d="M311.3 620L311.7 626.6"/>
<path class="k" d="M294.7 635.8L298.1 633.3"/>
<path class="k" d="M303.9 691.3C305.1 690.6 309 688.3 311.3 687.2C313.7 686.1 316.2 684.8 318 684.7C319.8 684.6 321.1 685 322.1 686.4C323.1 687.7 323.9 690.2 323.8 693C323.6 695.8 322.8 699.9 321.3 702.9C319.8 706 316.9 708.8 314.7 711.2C312.4 713.7 309.4 716.4 308 717.9C306.6 719.3 306.6 719.7 306.4 720"/>
<path class="k" d="M240 642.4C242.2 642.7 249.4 643.1 253.3 644.1C257.1 645 261.6 647.5 263.2 648.2"/>
<path class="k" d="M240 665.6C241.7 666.3 246.6 668 250 669.8C253.3 671.6 257.3 674.2 259.9 676.4C262.5 678.6 264.7 681.9 265.7 683"/>
<path class="k" d="M240 669.8C241.9 670.6 247.7 672.7 251.6 674.7C255.5 676.8 260.7 680.3 263.2 682.2C265.7 684.1 266.1 684.7 266.5 686.4C267 688 266.4 690.9 265.7 692.2C265 693.4 263.5 693.7 262.4 693.8C261.3 694 259.6 693.1 259.1 693"/>
<path class="k" d="M269.9 679.7C271.2 680.6 275.8 682.8 278.2 684.7C280.5 686.6 282.9 689.1 284 691.3C285.1 693.5 285.5 696.3 284.8 698C284.1 699.6 282 700.6 279.8 701.3C277.6 702 274.8 702.4 271.5 702.1C268.2 701.8 263.8 700.7 259.9 699.6C256 698.5 251.6 696.6 248.3 695.5C245 694.4 241.4 693.4 240 693"/>
<path class="k" d="M264.9 720C265.7 719.7 267.9 718.1 269.9 717.9C271.8 717.7 274.8 718.3 276.5 718.7C278.2 719.1 279.3 719.8 279.8 720"/>
<path class="k" d="M231.3 708.8C234.4 710.4 243.6 715.7 250.1 718.8C256.5 721.9 264.3 725.3 270.1 727.6C275.9 729.8 281.4 731.1 285.1 732.1C288.9 733 290.1 733.6 292.6 733.1C295.1 732.5 297.6 730.4 300.2 728.8C302.7 727.3 305.8 726.1 307.7 723.8C309.5 721.5 309.3 717.7 311.4 715C313.5 712.3 318.1 710.4 320.2 707.5C322.3 704.6 323.5 700.4 323.9 697.5C324.4 694.6 322.9 691.3 322.7 690"/>
<path class="k" d="M301.9 690L301.9 725.1"/>
<path class="k" d="M266.3 722.5C267 721.8 268.2 718.7 270.1 718C272 717.4 274.9 717.8 277.6 718.8C280.3 719.8 284.7 722.1 286.4 723.8C288 725.5 287.4 728 287.6 728.8"/>
<path class="k" d="M258.8 693.8C259.9 693.5 263.8 693.1 265.1 692.5C266.3 691.9 266.1 690.4 266.3 690"/>
<path class="k" d="M263.8 700C265.7 700.4 271.8 702.7 275.1 702.5C278.5 702.3 282 700.4 283.9 698.8C285.8 697.1 286.4 694 286.4 692.5C286.4 691 284.3 690.4 283.9 690"/>
<path class="k" d="M303.9 692.5C304.1 693.5 304.5 697.3 305.2 698.8C305.8 700.2 307.2 700.8 307.7 701.3"/>
<path class="k" d="M303.9 692.5L308.9 691.3"/>
<path class="k" d="M53.8 594.5L46.3 602.5L46.3 677.6L36.3 682.7L46.3 687.7L46.3 772.8L53.8 781.6"/>
<path class="k" d="M52.5 615.1L123.9 615.1"/>
<path class="k" style="stroke:#777" d="M70.8 678.1L85.6 678.1"/>
<path class="k" style="stroke:#777" d="M67.6 740.2L155.2 740.2"/>
<path class="k" d="M68.1 759.8L142.7 759.8"/>
<path class="k" d="M123.1 607.5C123.3 607.3 123.6 606.3 124 606C124.4 605.7 124.9 605.5 125.6 605.6C126.3 605.8 127.7 606.7 128.1 606.9"/>
<path class="k" d="M128.1 606.9L146.3 620.7"/>
<path class="k" d="M146.3 620.7C147.1 620.9 149.8 622 151.3 621.9C152.8 621.8 154 621.2 155.1 620C156.1 618.9 156.5 616.5 157.6 615C158.6 613.6 159.2 612.3 161.3 611.3C163.4 610.3 166.7 609.5 170.1 609C173.4 608.5 178 608.2 181.3 608.1C184.7 608.1 188.6 608.5 190.1 608.5"/>
<path class="k" d="M123.1 607.5L124.4 610.6L146.3 628.8L157.6 638.2"/>
<path class="k" d="M157.6 638.2C159.2 637.7 164.6 635.8 167.6 635.3C170.5 634.8 173.8 635.1 175.1 635.1"/>
<path class="k" d="M152.5 631.3L156.9 628.2L159.4 628.5L157.8 631.5L154.8 632.3Z"/>
<path class="k" d="M148.2 630.7L152.5 631.3"/>
<path class="k" d="M160.7 615.7C161.4 615.3 162.7 614.3 165.1 613.8C167.5 613.3 171.7 612.8 175.1 612.5C178.4 612.2 182.4 612.1 185.1 611.9C187.8 611.7 190.3 611.4 191.3 611.3"/>
<path class="k" d="M160.7 615.7C160.5 616.2 159.7 617.7 159.4 618.8C159.1 619.8 158.9 621.4 158.8 621.9"/>
<path class="k" d="M169.7 622.8C170.2 622.1 171.6 619.5 172.6 618.8C173.5 618 174.2 617.6 175.3 618.3C176.4 618.9 178.6 621.7 179.1 622.8C179.6 623.9 178.4 624.7 178.2 625"/>
<path class="k" d="M178.2 625L175.1 621.9L173.2 621.9L177.3 630.7"/>
<path class="k" d="M177.3 630.7C177.2 630.9 176.9 632.3 176.3 632.3C175.7 632.3 174.2 630.9 173.8 630.7"/>
<path class="k" d="M173.8 630.7L169.7 622.8"/>
<path class="k" d="M187 607.5C187.3 606.1 188.3 600.8 188.8 598.8C189.4 596.7 189.9 595.6 190.1 595"/>
<path class="k" d="M190.1 608.1C190.4 606.8 191.4 602.2 192 600C192.5 597.8 193 595.8 193.2 595"/>
<path class="kw" d="M155.4 643.8C156.2 641.5 156.8 641.1 159.1 640.1C161.4 639 165.2 638.1 169.1 637.6C173.1 637.1 180 636.7 182.9 637.1C185.8 637.5 185.9 637.9 186.7 640.1C187.4 642.2 187.8 646.3 187.2 650.1C186.5 653.8 185.1 659.5 182.9 662.6C180.7 665.7 177.3 667.7 174.1 668.9C171 670 167 670.5 164.1 669.6C161.2 668.8 158.3 666.5 156.6 663.9C154.9 661.2 154.3 657.2 154.1 653.8C153.9 650.5 154.5 646.1 155.4 643.8Z"/>
<path class="k" d="M159.1 641.3C158.6 643.2 156 648.5 155.9 652.6C155.7 656.6 157.9 663.4 158.4 665.6"/>
<path class="k" d="M162.1 640.1C161.6 642.2 159 648.1 158.9 652.6C158.7 657.1 160.9 664.7 161.4 667.1"/>
<path class="k" d="M165.1 639.3C164.6 641.5 162 647.8 161.9 652.6C161.7 657.4 164 665.5 164.4 668.1"/>
<path class="k" d="M166.6 665.9C168.3 665.2 173.9 664.4 176.6 661.9C179.4 659.3 181.9 654.2 183.1 650.6C184.4 647 183.8 641.8 183.9 640.1"/>
<path class="k" d="M169.1 663.4C170.4 662.6 174.7 660.9 176.6 658.6C178.6 656.3 179.9 652.2 180.6 649.3C181.4 646.5 181.3 642.7 181.4 641.3"/>
<path class="k" d="M171.6 660.6C172.5 659.7 176 657.8 177.1 655.1C178.3 652.4 178.4 646.3 178.6 644.6"/>
<path class="k" d="M164.6 639.1C165.8 639.2 168.8 640 171.6 640.1C174.5 640.1 180 639.4 181.6 639.3"/>
<path class="kw" d="M91 682.6C91.4 679.7 92.3 675.5 94 672.6C95.8 669.7 99 666.8 101.5 665.1C104 663.4 106.1 662.6 109 662.6C112 662.6 116.6 663 119.1 665.1C121.5 667.2 122.9 671.4 123.6 675.1C124.2 678.9 124 684.1 122.8 687.6C121.6 691.2 119.3 694.3 116.5 696.4C113.8 698.5 109.7 700 106.5 700.2C103.4 700.4 100.3 699.3 97.8 697.7C95.3 696 92.6 692.7 91.5 690.2C90.4 687.6 90.6 685.6 91 682.6Z"/>
<path class="k" d="M95.3 671.4C94.8 673.5 92.6 679.7 92.8 683.9C93 688.1 95.9 694.3 96.5 696.4"/>
<path class="k" d="M98.5 668.4C98.1 671 95.6 678.9 95.8 683.9C95.9 688.9 98.9 696 99.5 698.4"/>
<path class="k" d="M101.8 666.4C101.3 669.3 98.9 678.3 99 683.9C99.2 689.4 102.2 697 102.8 699.7"/>
<path class="k" d="M102.8 695.7C104.4 695 110 694.2 112.8 691.9C115.5 689.6 118 685.5 119.3 681.9C120.6 678.3 120.3 672.1 120.6 670.1"/>
<path class="k" d="M105.3 692.9C106.5 692.2 110.8 690.5 112.8 688.4C114.8 686.3 116.2 683 117 680.1C117.9 677.3 117.9 672.8 118.1 671.4"/>
<path class="k" d="M107.8 689.9C108.6 689.1 111.6 687.6 112.8 685.4C114 683.1 114.5 677.9 114.8 676.4"/>
<path class="kw" d="M103.9 668C103.5 666.4 101.5 661.2 101.4 658.1C101.4 655 101.6 649.4 103.6 649.4C105.6 649.4 112.2 656 113.5 658.1C114.8 660.1 112.7 662.3 111.4 661.7C110 661.2 106.6 653.8 105.6 654.7C104.5 655.7 105.3 665.1 105.2 667.2"/>
<path class="k" d="M119.7 687.9C120.4 688.6 121.5 691.2 123.8 692.1C126.2 692.9 130.4 693.3 133.8 692.9C137.1 692.5 141 690.5 143.7 689.6C146.5 688.6 148.4 687.2 150.4 687.1C152.3 687 153.7 687.9 155.3 688.8C157 689.6 159.5 691.5 160.3 692.1"/>
<path class="k" d="M118 690.4C118.8 691 120.4 693.5 123 694.2C125.6 695 130.2 695.5 133.8 695.1C137.4 694.6 141.8 692.5 144.6 691.6C147.3 690.6 148.7 689.4 150.4 689.3C152 689.1 153.1 690.2 154.5 690.9C155.9 691.7 158 693.5 159 693.7C160 693.9 160.1 692.3 160.3 692.1"/>
<path class="k" d="M128.8 669.7L145 657.2"/>
<path class="k" d="M191.3 690L183.8 704.1"/>
<path class="k" d="M178.8 709.9C179.3 709.5 180.5 707.4 181.3 707.4C182.2 707.4 183.5 708.9 183.8 709.9C184.1 710.9 183.1 712.7 183 713.2"/>
<path class="k" d="M178.5 710.2L168.4 729.5"/>
<path class="k" d="M184.2 711.1L178.3 733.5"/>
<path class="k" d="M176 716.2C176.4 716.6 177.4 718 178.5 718.4C179.6 718.7 181.8 718.2 182.5 718.2"/>
<path class="k" d="M174.4 720.4C174.8 720.7 175.9 722.3 177 722.7C178.1 723.1 180.3 722.8 181 722.8"/>
<path class="k" d="M172.5 724.5C173 724.9 174.2 726.7 175.4 727.2C176.6 727.7 179 727.4 179.7 727.5"/>
<path class="k" d="M170.7 728.7C171.2 729.1 172.6 730.9 173.9 731.5C175.2 732.1 177.7 732 178.5 732.1"/>
<path class="kw" d="M162.8 730.1L168.9 728.5L178 733.5L177.4 739.8L173.9 743.4L167.2 744.1L161.4 739.8L160.6 734Z"/>
<path class="k" d="M168.9 728.5L167.2 738.1L173.9 743.1"/>
<path class="k" d="M167.2 738.1L161.4 739.8"/>
<path class="k" d="M161.8 741.4C161.6 742.4 160.4 745.8 160.6 747.2C160.8 748.7 162 749.5 163.1 750.1C164.2 750.6 166.2 751 167.2 750.6C168.3 750.1 168.8 748.4 169.4 747.2C169.9 746 170.4 744.1 170.6 743.4"/>
<path class="k" d="M161.1 744.7C161.8 745.1 164.1 746.6 165.6 746.7C167 746.9 169 745.8 169.7 745.6"/>
<path class="kw" d="M150.6 756.4C150.3 757.9 147.8 763 148.5 765.5C149.2 767.9 152.4 770 154.8 771C157.2 771.9 161.2 771.8 163.1 771.3C165 770.8 165.5 770 166.4 768C167.3 765.9 168.1 760.4 168.4 758.8"/>
<ellipse class="kw" cx="159.8" cy="757.2" rx="9" ry="5" transform="rotate(15 159.8 757.2)"/>
<ellipse class="k" cx="159.8" cy="757.2" rx="5.5" ry="2.8" transform="rotate(15 159.8 757.2)"/>
<path class="k" d="M149.8 760.5C150.9 761.3 154 764.7 156.4 765.5C158.9 766.3 162.8 766 164.7 765.5C166.7 764.9 167.5 762.7 168.1 762.2"/>
<path class="k" d="M149 763.8C150.1 764.7 153.1 768 155.6 768.8C158.1 769.6 162 769.4 163.9 768.8C165.9 768.2 166.7 766 167.2 765.5"/>
<path class="k" d="M233.1 783L225.1 791.3L225.1 815.1L213.8 822.6L225.1 830.1L225.1 855.1L233.1 864.6"/>
<path class="k" d="M229.3 805.6L243.1 805.6"/>
<path class="k" d="M229.3 846.4L283.2 845.1"/>
<ellipse class="kw" cx="261.9" cy="813.1" rx="14.5" ry="26.5" transform="rotate(22 261.9 813.1)"/>
<ellipse class="k" cx="262.1" cy="813.1" rx="11.3" ry="22.3" transform="rotate(22 262.1 813.1)"/>
<ellipse class="dt" cx="262" cy="813.1" rx="12.9" ry="24.4" transform="rotate(22 262 813.1)"/>
<ellipse class="kw" cx="297.2" cy="834.6" rx="13" ry="24.5" transform="rotate(22 297.2 834.6)"/>
<ellipse class="kw" cx="299.7" cy="834.1" rx="13" ry="24.5" transform="rotate(22 299.7 834.1)"/>
<ellipse class="kw" cx="306.4" cy="832.6" rx="16.5" ry="25.5" transform="rotate(22 306.4 832.6)"/>
<ellipse class="kw" cx="308.2" cy="832.6" rx="16.5" ry="25.5" transform="rotate(22 308.2 832.6)"/>
<ellipse class="dt" cx="302.7" cy="833.6" rx="14" ry="24" transform="rotate(22 302.7 833.6)"/>
<ellipse class="dt" cx="307.2" cy="832.6" rx="14.5" ry="23.5" transform="rotate(22 307.2 832.6)"/>
<ellipse class="kw" cx="314" cy="831.8" rx="12" ry="19.5" transform="rotate(22 314 831.8)"/>
<ellipse class="k" cx="314.7" cy="832.6" rx="9" ry="15.5" transform="rotate(22 314.7 832.6)"/>
<ellipse class="k" cx="315.2" cy="833.1" rx="6.5" ry="12.3" transform="rotate(22 315.2 833.1)"/>
<ellipse class="dt" cx="314.5" cy="832.3" rx="10.5" ry="17.5" transform="rotate(22 314.5 832.3)"/>
<path class="k" d="M457.6 468.8L470.1 465.6L521.7 496.3L531.1 493.8L534.2 506.3L596.8 542.3L600.9 555.8"/>
<path class="k" d="M475.7 478.2L475.7 514.2"/>
<path class="k" d="M534.2 511L534.2 548.6"/>
<path class="kw" d="M448.4 531.5C449.5 528.5 450.8 529.3 452.6 528.2C454.4 527.1 457.7 526.4 459.2 524.9C460.7 523.4 460.5 520.6 461.7 519.1C463 517.6 465 516 466.7 515.8C468.3 515.5 470.3 516.3 471.7 517.4C473 518.5 473.7 522 475 522.4C476.2 522.8 477.7 520.5 479.1 519.9C480.5 519.4 482.2 518.7 483.3 519.1C484.4 519.5 485.4 520 485.8 522.4C486.1 524.7 485.7 528.6 485.4 533.2C485.2 537.7 484.1 544.2 484.1 549.8C484.2 555.3 485.4 561.7 485.8 566.4C486.2 571.1 486.9 575.2 486.6 578C486.3 580.7 485.2 581.7 484.1 582.9C483 584.2 481.6 584.5 480 585.4C478.3 586.4 475.5 587.2 474.2 588.8C472.8 590.3 472.8 593 471.7 594.6C470.6 596.1 469.3 597.5 467.5 597.9C465.7 598.3 462.8 596.7 460.9 597C458.9 597.4 457.3 599.8 455.9 600C454.5 600.3 453.6 599.6 452.6 598.7C451.6 597.8 451.1 597.2 450.1 594.6C449.1 591.9 447.6 587.6 446.8 582.9C446 578.2 445.3 572.4 445.1 566.4C445 560.3 445.4 552.3 446 546.4C446.5 540.6 447.3 534.6 448.4 531.5Z"/>
<path class="k" d="M451.8 533.2C453.3 532.2 458.9 529.3 460.9 527.4C462.8 525.4 462.3 523 463.4 521.6C464.5 520.1 466.1 518.7 467.5 518.6C468.9 518.4 470.4 519.7 471.7 520.7C472.9 521.8 473.6 524.6 475 524.9C476.4 525.2 479.1 522.8 480 522.4"/>
<path class="k" d="M451.8 533.2C451.4 535.9 450 543.7 449.6 549.8C449.2 555.9 449.1 563.6 449.3 569.7C449.5 575.8 450.1 581.7 450.9 586.3C451.8 590.8 452.6 595.2 454.2 597C455.9 598.8 459.8 597 460.9 597"/>
<path class="k" d="M455.9 537.3C460.4 532.8 476.4 528.5 480.8 527.4C485.2 526.3 482.6 527 482.4 530.7C482.3 534.4 480.2 543.8 480 549.8C479.7 555.7 480.2 561.4 480.8 566.4C481.3 571.3 483.3 576.9 483.3 579.6C483.3 582.4 484.8 580.7 480.8 582.9C476.8 585.2 463.4 591.8 459.2 592.9C455.1 594 456.7 592.6 455.9 589.6C455.1 586.5 454.6 580.5 454.2 574.7C453.9 568.8 453.6 561 453.9 554.7C454.2 548.5 451.4 541.9 455.9 537.3Z"/>
<path class="k" d="M480.8 581.3C480.5 578.8 479.2 571.6 478.8 566.4C478.4 561.1 478.1 555.6 478.3 549.8C478.5 544 482.9 533.2 480 531.5C477.1 529.9 464.5 535.9 460.9 539.8C457.3 543.7 458.8 548.9 458.4 554.7C458 560.6 458.1 568.7 458.4 574.7C458.7 580.6 459.8 587.8 460.1 590.4"/>
<path class="k" d="M460.9 539.8L455.9 537.3"/>
<path class="k" d="M480 519.9L484.1 519.1L484.9 523.2L481.6 524.1"/>
<path class="k" d="M482.4 579.6L484.9 581.3L484.1 583.8"/>
<path class="kw" d="M505.1 565.7C506.4 562 507.6 565.2 510.1 564.1C512.6 562.9 518 560.9 520.1 559.1C522.1 557.3 521.3 554.8 522.5 553.3C523.8 551.8 526 550.2 527.5 550C529 549.7 530.3 550.5 531.7 551.6C533 552.7 534.4 556.2 535.8 556.6C537.2 557 538.6 554.7 540 554.1C541.3 553.5 542.9 552.9 544.1 553.3C545.3 553.7 546.7 554.1 547.1 556.6C547.5 559.1 546.9 563.5 546.6 568.2C546.3 572.9 545.4 579.3 545.4 584.8C545.4 590.3 546.2 596.7 546.6 601.4C547 606.1 548 610.4 547.8 613C547.6 615.6 546.5 616 545.4 617.1C544.4 618.2 543.2 618.7 541.6 619.6C540 620.6 537.2 621.4 535.8 622.9C534.4 624.5 534.4 627 533.3 628.8C532.2 630.5 530.6 632.6 529.2 633.7C527.8 634.8 526.4 635.4 525 635.4C523.6 635.4 522.4 633.7 520.9 633.7C519.4 633.7 517.4 635.7 515.9 635.4C514.4 635.1 513.1 633.6 511.8 632.1C510.4 630.5 509 628.6 507.6 626.3C506.2 623.9 504.4 621.8 503.5 618C502.5 614.1 502 608.3 501.8 603C501.6 597.8 501.8 592.7 502.3 586.4C502.9 580.2 503.8 569.4 505.1 565.7Z"/>
<path class="k" d="M510.1 564.1C509.7 567 508.1 575 507.6 581.5C507.1 588 507 596.7 507.3 603C507.6 609.4 508.4 615.1 509.3 619.6C510.2 624.2 511.6 627.9 512.6 630.4C513.6 632.9 514.7 633.9 515.1 634.6"/>
<path class="k" d="M513.4 566.5C513.1 569.3 511.7 576.8 511.3 583.1C510.8 589.5 510.7 598.3 510.9 604.7C511.2 611.1 511.8 616.7 512.6 621.3C513.4 625.8 514.7 629.8 515.6 632.1C516.4 634.3 517.2 634.4 517.6 634.9"/>
<path class="k" d="M517.6 568.2C517.2 571 515.6 578.7 515.1 584.8C514.6 590.9 514.4 598.9 514.6 604.7C514.7 610.5 515.4 615.5 515.9 619.6C516.5 623.8 517.6 627.9 517.9 629.6"/>
<path class="k" d="M513.4 566.5C515.1 565.6 521.4 562.5 523.4 560.7C525.4 558.9 524.7 557 525.5 555.8C526.4 554.5 527.9 553.7 528.3 553.3"/>
<path class="k" d="M505.1 565.7L508.4 568.5L510.1 564.1"/>
<ellipse class="k" cx="524.5" cy="596.4" rx="5" ry="6.6" transform="rotate(25 524.5 596.4)"/>
<path class="k" d="M540.8 554.1L544.1 553.3L544.4 557.4L542.1 558.6"/>
<path class="k" d="M544.1 614.7L541.6 616.3L543.3 618.8"/>
<path class="k" d="M582.3 560.6L582.3 576.3"/>
<path class="k" d="M556.3 581.3L574.4 576L591.3 585.7L579.4 590.3L572.5 590.3L556.3 581.3"/>
<path class="k" d="M560.6 581.7L576.9 590"/>
<path class="k" d="M582.3 580L590.7 576.3L607.8 586.3L609.4 588.8L608.8 596.3L601.3 592.3"/>
<path class="k" d="M607.8 586.3L598.2 590L597.6 597.5L591.3 600.3L580 593.2"/>
<path class="k" d="M591.3 585.7L591.3 600.3"/>
<path class="k" d="M591.9 591.3L594.4 591.9"/>
<path class="k" d="M357.5 598L368.8 595.5L422.6 625.8L433.1 623.1L436.4 635.6L494 668.9L499 680.2"/>
<path class="k" d="M378.8 609.5L378.8 662.6"/>
<path class="k" d="M409.6 673.1L420.1 670.6L432.6 676.4L442.7 673.9L445.2 683.9L457.7 693.9L460.7 704.4"/>
<path class="k" d="M422.6 678.9L422.6 695.2"/>
<path class="k" d="M486.5 673.9L486.5 725.2"/>
<path class="k" d="M379 675.8L404.8 693.8"/>
<path class="k" d="M373.5 687.6L400.4 702"/>
<path class="k" d="M380.5 680.5L403.5 696.3"/>
<path class="k" d="M378.2 683.6L402 699.5"/>
<ellipse class="kw" cx="404.1" cy="697.7" rx="2" ry="3.8" transform="rotate(32 404.1 697.7)"/>
<ellipse class="kw" cx="376.9" cy="679" rx="3.1" ry="8.1" transform="rotate(28 376.9 679)"/>
<ellipse class="kw" cx="373.5" cy="677.4" rx="3.4" ry="8.8" transform="rotate(28 373.5 677.4)"/>
<path class="kw" d="M360.6 676.3L363.3 670.3L368.8 667.5L373.5 669.1L372.2 675L369.6 681.3L366.4 686.8L363.3 683.6L361 680.5Z"/>
<path class="k" d="M363.3 670.3L367.2 673.5L366.4 681.3L363.3 683.6"/>
<path class="k" d="M367.2 673.5L373.5 669.1"/>
<path class="k" d="M366.4 681.3L369.6 681.3"/>
<path class="k" d="M416.5 697.7L428.2 704"/>
<path class="k" d="M411.8 714.2L423.6 719.6"/>
<ellipse class="kw" cx="414.9" cy="707.1" rx="5.6" ry="8.1" transform="rotate(25 414.9 707.1)"/>
<ellipse class="kw" cx="418.1" cy="708.4" rx="5.6" ry="8.1" transform="rotate(25 418.1 708.4)"/>
<ellipse class="kw" cx="421.2" cy="709.6" rx="5.6" ry="8.1" transform="rotate(25 421.2 709.6)"/>
<ellipse class="kw" cx="424.3" cy="710.9" rx="5.6" ry="8.1" transform="rotate(25 424.3 710.9)"/>
<ellipse class="kw" cx="426.7" cy="711.3" rx="5.5" ry="7.7" transform="rotate(25 426.7 711.3)"/>
<ellipse class="k" cx="427.2" cy="711.8" rx="2.8" ry="4.1" transform="rotate(25 427.2 711.8)"/>
<path class="k" d="M429 712.9L444.7 723.6"/>
<path class="k" d="M430 714.1L444.9 724"/>
<path class="k" d="M444.2 733.8C445 732 446.4 725.6 448.6 722.9C450.8 720.1 455 718.3 457.4 717.4C459.8 716.5 462 717.4 462.9 717.4"/>
<path class="k" d="M462.9 717.4L495.7 737.1"/>
<path class="k" d="M495.7 737.1C497 738.4 501.6 742.8 503.4 744.8C505.2 746.8 506.1 748.4 506.7 749.2"/>
<path class="k" d="M444.2 733.8C444.6 734.9 445.2 738.8 446.4 740.4C447.7 742 451 743.1 451.9 743.7"/>
<path class="k" d="M451.9 743.7L487 761.2"/>
<path class="k" d="M487 761.2C487.7 761.4 490.3 763.2 491.3 762.3C492.4 761.4 491 757.7 493.5 755.7C496.1 753.7 504.5 751.2 506.7 750.3"/>
<path class="k" d="M451.9 725.1 L458.5 722.9"/>
<path class="k" d="M458.5 722.9L493.5 744.8L491.3 755.7"/>
<path class="k" d="M446.4 737.1C447.3 736.2 450.3 732.7 451.9 731.6C453.6 730.5 455.6 730.7 456.3 730.5"/>
<path class="k" d="M456.3 730.5L489.2 753.5"/>
<path class="k" d="M481.5 762.3C481.4 763.2 480.5 766.5 480.8 767.8C481.2 769.1 482.1 769.6 483.7 770C485.3 770.3 488.8 770.7 490.3 770C491.7 769.2 492.1 766.3 492.4 765.6"/>
<path class="k" d="M505.6 749.2C505.6 748.4 506 746.8 505.6 744.8C505.2 742.8 503 738.6 503.4 737.1C503.8 735.6 504.7 734.9 507.8 736C510.9 737.1 519.7 742.4 522 743.7"/>
<path class="k" d="M506.7 749.2C509.6 748.2 519.5 745 524.2 743.7C529 742.4 532.2 741.3 535.2 741.5C538.1 741.7 539.9 743.1 541.7 744.8C543.6 746.4 545.6 748.4 546.1 751.3C546.7 754.3 545.9 757.9 545 762.3C544.1 766.7 541.9 772.5 540.6 777.6C539.4 782.8 537.9 787.9 537.4 793C536.8 798.1 536.6 802.8 537.4 808.3C538.1 813.8 540.3 821.1 541.7 825.8C543.2 830.6 545.6 833.1 546.1 836.8C546.7 840.5 546.5 844.5 545 847.8C543.6 851 541.2 853.6 537.4 856.5C533.5 859.4 527.1 862.7 522 865.3C516.9 867.8 509.2 870.8 506.7 871.9"/>
<path class="k" d="M526.4 744.8C528.2 745.2 535 745.9 537.4 747.4C539.7 748.9 540.5 750.3 540.6 753.5C540.8 756.8 539.6 761.9 538.5 766.7C537.4 771.4 535.2 776.5 534.1 782C533 787.5 532.1 794.1 531.9 799.6C531.7 805 532.1 809.8 533 814.9C533.9 820 536.3 825.8 537.4 830.2C538.5 834.6 539.2 839.4 539.6 841.2"/>
<path class="k" d="M502.3 764.5C502.1 767.4 501.2 776.2 501.2 782C501.2 787.9 501.6 793.7 502.3 799.6C503 805.4 504.9 812.7 505.6 817.1C506.3 821.5 506.5 824.4 506.7 825.8"/>
<path class="k" d="M505.6 765.6C505.4 768.3 504.5 776.4 504.5 782C504.5 787.7 504.9 793.7 505.6 799.6C506.3 805.4 508 812.7 508.9 817.1C509.8 821.5 510.7 824.4 511.1 825.8"/>
<path class="k" d="M526.4 755.7C526.8 757.2 528.6 760.1 528.6 764.5C528.6 768.9 527.1 776.9 526.4 782C525.7 787.1 524.2 790.8 524.2 795.2C524.2 799.6 525.3 803.9 526.4 808.3C527.5 812.7 529.5 817.4 530.8 821.5C532.1 825.5 533.5 830.6 534.1 832.4"/>
<path class="k" d="M529.7 755.7C530.1 757.2 531.9 760.1 531.9 764.5C531.9 768.9 530.4 776.5 529.7 782C529 787.5 527.9 792.8 527.9 797.4C527.9 801.9 528.6 805 529.7 809.4C530.8 813.8 533.9 821.3 534.7 823.7"/>
<path class="k" d="M493.5 762.3C495 761.8 498.3 760.3 502.3 759C506.3 757.7 513.6 755.5 517.6 754.6C521.7 753.7 524.9 753.7 526.4 753.5"/>
<path class="k" d="M502.3 764.5L508.9 763.4L508.9 759"/>
<path class="k" d="M516.5 755.7C517.1 756.3 518.6 758.7 519.8 759C521.1 759.4 523.2 758.7 524.2 757.9C525.2 757.2 525.7 755.2 526 754.6"/>
<path class="k" d="M477.1 847.8C474.4 846.4 465.2 840.2 460.7 839.4C456.1 838.7 452.3 841.4 449.7 843.4C447.2 845.3 445.5 848.5 445.3 851C445.2 853.6 448.1 857.4 448.6 858.7"/>
<path class="k" d="M448.6 858.7L489.2 880.6"/>
<path class="k" d="M489.2 880.6C489.9 881.2 491 883.9 493.5 883.9C496.1 883.9 502.3 882.6 504.5 880.6C506.7 878.6 506.3 873.3 506.7 871.9"/>
<path class="k" d="M449.7 852.1L489.2 874L490.3 879.5"/>
<path class="k" d="M492.4 869.7C494.8 868.6 501.8 865.3 506.7 863.1C511.6 860.9 519.5 857.6 522 856.5"/>
<path class="k" d="M477.1 856.5L482.6 852.1L483.7 841.2L489.2 835.7L492.4 836.8L493.5 844.5L497.9 841.2L499 832.4L505.6 826.9L511.5 825.8L512.2 832.4L506.7 839L504.5 847.8L479.3 859.8L477.1 856.5"/>
<path class="k" d="M480 856.1L484.8 852.6L485.9 842.9L489.6 839"/>
</g>
<rect x="196.8" y="294" width="28.2" height="33" fill="rgba(255,0,0,0.5)"/>
</svg>
<div id="bar"><span id="t1" style="left:170.2px">VAG - 5C0615612C</span><span id="t2" style="left:416.3px">N - 8</span></div>
</body></html>
